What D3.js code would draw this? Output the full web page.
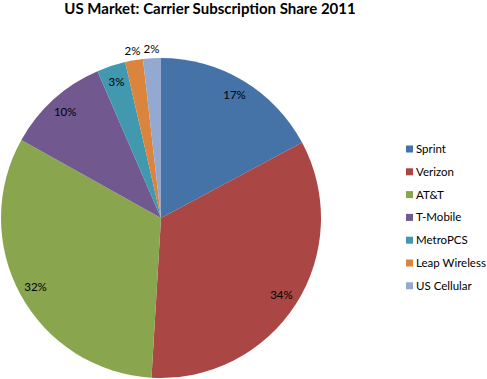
<!DOCTYPE html>
<html>
<head>
<meta charset="utf-8">
<script src="https://cdn.jsdelivr.net/npm/d3@7"></script>
<style>
  body { margin: 0; background: #fff; }
  text { font-family: Lato, "Open Sans", sans-serif; fill: #000; }
</style>
</head>
<body>
<div id="chart"></div>
<script>
// chart data
var carriers = ["Sprint", "Verizon", "AT&T", "T-Mobile", "MetroPCS", "Leap Wireless", "US Cellular"];
var shares = [17.2, 33.8, 32.2, 10.4, 2.9, 1.8, 1.8];
var colors = ["#4572A7", "#AA4643", "#89A54E", "#71588F", "#4198AF", "#DB843D", "#93A9CF"];
var title = "US Market: Carrier Subscription Share 2011";

var width = 487;
var height = 379;
var cx = 161, cy = 218, radius = 160;

var svg = d3.select("#chart").append("svg")
  .attr("width", width)
  .attr("height", height);

// title
svg.append("text")
  .attr("x", 210)
  .attr("y", 14)
  .attr("text-anchor", "middle")
  .style("font-size", "15px")
  .style("font-weight", "bold")
  .text(title);

var data = carriers.map(function(c, i) { return {name: c, value: shares[i], color: colors[i]}; });
var total = d3.sum(shares);

var pie = d3.pie().sort(null).value(function(d) { return d.value; });
var arc = d3.arc().innerRadius(0).outerRadius(radius);
var labelArcIn = d3.arc().innerRadius(143).outerRadius(143);
var labelArcOut = d3.arc().innerRadius(169).outerRadius(169);

var g = svg.append("g").attr("transform", "translate(" + cx + "," + cy + ")");
var arcs = pie(data);

g.selectAll("path")
  .data(arcs)
  .enter().append("path")
  .attr("d", arc)
  .attr("fill", function(d) { return d.data.color; });

// percentage labels, small slices go outside
g.selectAll(".lbl")
  .data(arcs)
  .enter().append("text")
  .attr("class", "lbl")
  .attr("transform", function(d) {
    var a = d.data.value / total < 0.025 ? labelArcOut : labelArcIn;
    return "translate(" + a.centroid(d) + ")";
  })
  .attr("text-anchor", "middle")
  .attr("dy", "0.35em")
  .style("font-size", "11.5px")
  .text(function(d) { return Math.round(d.data.value / total * 100) + "%"; });

// legend
var legend = svg.append("g").attr("transform", "translate(406,149)");
var rows = legend.selectAll("g")
  .data(data)
  .enter().append("g")
  .attr("transform", function(d, i) { return "translate(0," + (i * 22.8) + ")"; });

rows.append("rect")
  .attr("x", 0).attr("y", -3.5)
  .attr("width", 7).attr("height", 7)
  .attr("fill", function(d) { return d.color; });

rows.append("text")
  .attr("x", 10)
  .attr("dy", "0.35em")
  .style("font-size", "11.5px")
  .text(function(d) { return d.name; });
</script>
</body>
</html>
